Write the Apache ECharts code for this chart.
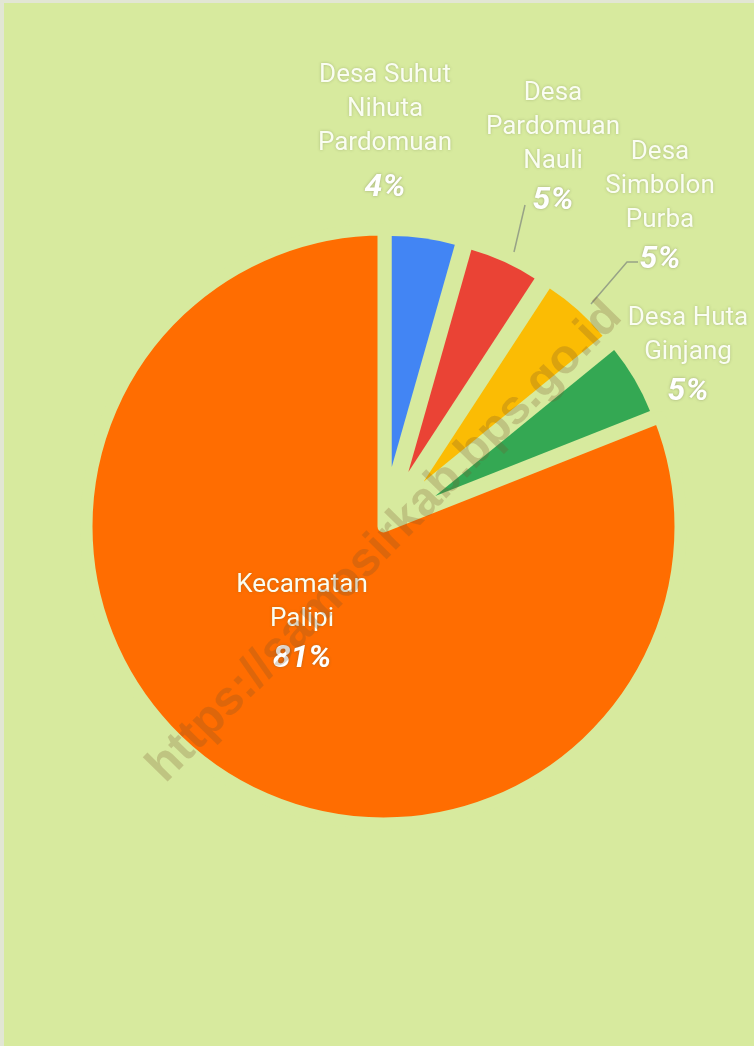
<!DOCTYPE html>
<html><head><meta charset="utf-8">
<script src="https://cdn.jsdelivr.net/npm/echarts@6/dist/echarts.min.js"></script>
<style>
html,body{margin:0;padding:0;background:#d7ea9e}
#c{width:754px;height:1046px}
#f{position:absolute;left:0;top:0;width:750px;height:1043px;border-top:3px solid #e2e6d4;border-left:4px solid #e2e6d4;pointer-events:none}
</style>
</head><body><div id="c"></div><div id="f"></div>
<script>
// ---- data ----
const categories = ['Desa Suhut Nihuta Pardomuan', 'Desa Pardomuan Nauli', 'Desa Simbolon Purba', 'Desa Huta Ginjang', 'Kecamatan Palipi'];
const labelLines = [['Desa Suhut', 'Nihuta', 'Pardomuan'], ['Desa', 'Pardomuan', 'Nauli'], ['Desa', 'Simbolon', 'Purba'], ['Desa Huta', 'Ginjang'], ['Kecamatan', 'Palipi']];
const values = [4.4, 4.8, 4.9, 4.9, 81.0];
const colors = ['#4285f4', '#ea4335', '#fbbc04', '#34a853', '#ff6d01'];
const exploded = [true, true, true, true, false];
// label anchor positions and connector paths (px)
const labelPos = [[385, 137], [553, 150], [660, 209], [688, 358], [302, 625]];
const guidePaths = [null, [[514, 252], [525, 205]], [[591, 304], [627, 262], [638, 262]], null, null];

const BG = '#d7ea9e';
const CENTER = [383.5, 526.5];
const NONE = 'rgba(0,0,0,0)';

const chart = echarts.init(document.getElementById('c'), null, {renderer: 'canvas'});
chart.setOption({
  animation: false,
  backgroundColor: BG,
  series: [
    { // big slice
      type: 'pie', center: CENTER, radius: 297, startAngle: 90, silent: true,
      label: {show: false}, labelLine: {show: false},
      data: values.map((v, i) => ({
        name: categories[i], value: v,
        itemStyle: exploded[i] ? {color: NONE, borderWidth: 0}
                               : {color: colors[i], borderColor: BG, borderWidth: 12}
      }))
    },
    { // exploded small slices
      type: 'pie', center: CENTER, radius: 231, startAngle: 90, silent: true,
      selectedMode: 'multiple', selectedOffset: 60,
      label: {show: false}, labelLine: {show: false},
      data: values.map((v, i) => ({
        name: categories[i], value: v, selected: exploded[i],
        itemStyle: exploded[i] ? {color: colors[i]} : {color: NONE}
      }))
    },
    { // labels
      type: 'pie', center: CENTER, radius: 291, startAngle: 90, silent: true, avoidLabelOverlap: false,
      itemStyle: {color: NONE},
      label: {
        show: true, position: 'outside', color: '#fafdf2',
        fontFamily: 'Roboto', align: 'center',
        formatter: p => '{n|' + labelLines[p.dataIndex].join('\n') + '}\n{' + (p.dataIndex === 0 ? 'q' : 'p') + '|' + Math.round(p.percent) + '%}',
        rich: {
          n: {fontSize: 26, lineHeight: 34, color: '#fafdf2', fontFamily: 'Roboto', align: 'center',
              textShadowColor: 'rgba(90,100,60,0.35)', textShadowBlur: 3},
          p: {fontSize: 32, lineHeight: 46, fontWeight: 'bold', fontStyle: 'italic', color: '#ffffff',
              fontFamily: 'Roboto', align: 'center', textShadowColor: 'rgba(90,90,70,0.45)', textShadowBlur: 3},
          q: {fontSize: 32, lineHeight: 56, fontWeight: 'bold', fontStyle: 'italic', color: '#ffffff',
              fontFamily: 'Roboto', align: 'center', textShadowColor: 'rgba(90,90,70,0.45)', textShadowBlur: 3}
        }
      },
      labelLine: {show: true, length: 10, length2: 10, lineStyle: {color: '#98a387', width: 1.5}},
      labelLayout: p => {
        const o = {x: labelPos[p.dataIndex][0], y: labelPos[p.dataIndex][1], align: 'center', verticalAlign: 'middle'};
        if (guidePaths[p.dataIndex]) o.labelLinePoints = guidePaths[p.dataIndex];
        return o;
      },
      data: values.map((v, i) => ({
        name: categories[i], value: v,
        labelLine: {show: !!guidePaths[i]}
      }))
    }
  ],
  graphic: [{
    type: 'text', x: 385, y: 542, rotation: Math.PI / 4 * 1.01, z: 100, silent: true,
    style: {text: 'https://samosirkab.bps.go.id', fontSize: 48, fontWeight: 'bold', fontFamily: 'Liberation Sans',
            fill: 'rgba(120,85,45,0.25)', align: 'center', verticalAlign: 'middle'}
  }]
});
</script>
</body></html>
